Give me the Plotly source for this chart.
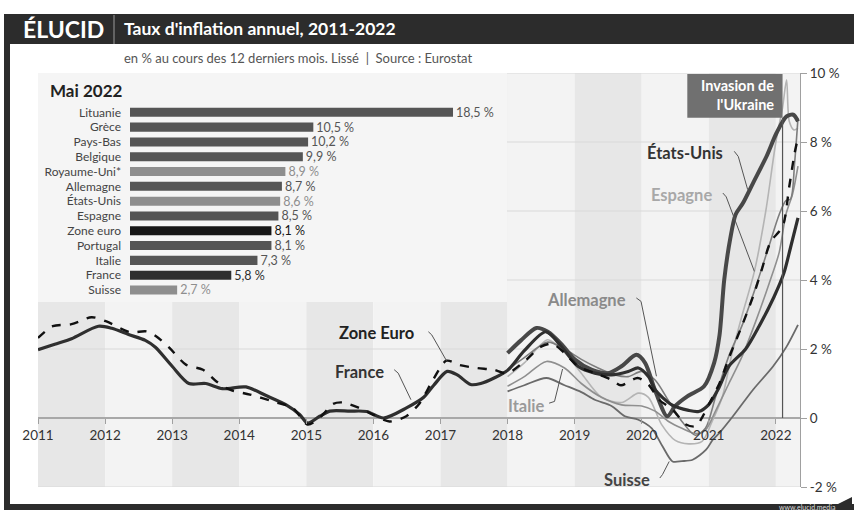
import plotly.graph_objects as go

# ---------------- DATA ----------------
bar_countries = ["Lituanie", "Grèce", "Pays-Bas", "Belgique", "Royaume-Uni*", "Allemagne",
                 "États-Unis", "Espagne", "Zone euro", "Portugal", "Italie", "France", "Suisse"]
bar_values = [18.5, 10.5, 10.2, 9.9, 8.9, 8.7, 8.6, 8.5, 8.1, 8.1, 7.3, 5.8, 2.7]
bar_colors = ["#555555", "#555555", "#555555", "#555555", "#8e8e8e", "#555555",
              "#8e8e8e", "#555555", "#161616", "#555555", "#555555", "#2e2e2e", "#8e8e8e"]

x_france = [2011.0, 2011.25, 2011.5, 2011.9, 2012.1, 2012.35, 2012.6, 2012.75, 2013.0, 2013.25,
            2013.5, 2013.75, 2014.1, 2014.4, 2014.7, 2014.9, 2015.02, 2015.2, 2015.35, 2015.65,
            2015.9, 2016.15, 2016.5, 2016.75, 2016.9, 2017.1, 2017.25, 2017.45, 2017.6, 2017.8,
            2018.0, 2018.25, 2018.57, 2018.8, 2019.05, 2019.3, 2019.55, 2019.8, 2019.95, 2020.1,
            2020.2, 2020.45, 2020.7, 2020.85, 2021.0, 2021.15, 2021.3, 2021.55, 2021.75, 2021.97,
            2022.12, 2022.22, 2022.33]
y_france = [1.98, 2.14, 2.3, 2.66, 2.6, 2.42, 2.25, 2.05, 1.5, 1.0,
            1.0, 0.85, 0.9, 0.65, 0.38, 0.1, -0.15, 0.05, 0.2, 0.2,
            0.19, 0.0, 0.3, 0.6, 0.95, 1.35, 1.25, 0.97, 1.0, 1.16,
            1.38, 1.95, 2.5, 2.08, 1.5, 1.3, 1.25, 1.35, 1.45, 1.2,
            0.82, 0.38, 0.22, 0.19, 0.39, 0.87, 1.5, 2.0, 2.66, 3.5,
            4.2, 4.95, 5.8]

x_zone = [2011.0, 2011.22, 2011.5, 2011.8, 2012.02, 2012.37, 2012.62, 2012.76, 2012.96, 2013.21,
          2013.46, 2013.66, 2013.86, 2014.16, 2014.5, 2014.8, 2015.02, 2015.22, 2015.4, 2015.55,
          2015.79, 2015.99, 2016.24, 2016.49, 2016.69, 2016.89, 2017.09, 2017.28, 2017.53, 2017.79,
          2018.0, 2018.25, 2018.5, 2018.67, 2018.85, 2019.05, 2019.3, 2019.55, 2019.69, 2019.94,
          2020.1, 2020.26, 2020.46, 2020.66, 2020.81, 2020.91, 2021.01, 2021.16, 2021.31, 2021.51,
          2021.66, 2021.79, 2021.92, 2022.1, 2022.2, 2022.28, 2022.33]
y_zone = [2.32, 2.66, 2.72, 2.92, 2.8, 2.49, 2.51, 2.37, 2.03, 1.54,
          1.40, 1.06, 0.82, 0.68, 0.48, 0.29, -0.19, 0.05, 0.41, 0.45,
          0.29, 0.10, -0.10, 0.05, 0.43, 1.11, 1.66, 1.54, 1.45, 1.40,
          1.30, 1.64, 2.07, 2.15, 1.88, 1.50, 1.30, 1.11, 0.95, 1.16,
          0.97, 0.53, 0.24, -0.19, -0.24, 0.05, 0.43, 1.01, 1.79, 2.75,
          3.52, 4.3, 5.1, 5.55, 6.71, 7.68, 8.12]

x_usa = [2018.0, 2018.2, 2018.43, 2018.6, 2018.8, 2019.0, 2019.25, 2019.5, 2019.7, 2019.92,
         2020.05, 2020.2, 2020.38, 2020.5, 2020.68, 2020.93, 2021.08, 2021.16, 2021.23, 2021.32,
         2021.4, 2021.51, 2021.66, 2021.86, 2022.01, 2022.16, 2022.26, 2022.33]
y_usa = [1.88, 2.25, 2.61, 2.5, 2.15, 1.7, 1.4, 1.3, 1.5, 1.83,
         1.6, 0.8, 0.05, 0.35, 0.63, 0.92, 1.6, 2.4, 4.0, 5.2,
         5.9, 6.23, 6.81, 7.58, 8.26, 8.74, 8.79, 8.6]

x_allemagne = [2018.0, 2018.25, 2018.6, 2018.85, 2019.1, 2019.35, 2019.6, 2019.8, 2020.0, 2020.2,
               2020.4, 2020.6, 2020.8, 2020.95, 2021.1, 2021.3, 2021.5, 2021.7, 2021.9, 2022.05,
               2022.15, 2022.22, 2022.28, 2022.33]
y_allemagne = [1.4, 1.75, 2.2, 2.0, 1.7, 1.45, 1.25, 1.2, 1.35, 1.1,
               0.5, -0.1, -0.5, -0.3, 0.6, 1.8, 2.7, 3.8, 5.0, 5.9,
               6.3, 6.35, 7.4, 8.7]

x_espagne = [2018.0, 2018.25, 2018.6, 2018.85, 2019.1, 2019.4, 2019.7, 2019.95, 2020.1, 2020.3,
             2020.5, 2020.7, 2020.9, 2021.05, 2021.2, 2021.35, 2021.5, 2021.68, 2021.85, 2022.0,
             2022.1, 2022.16, 2022.2, 2022.27, 2022.33]
y_espagne = [1.2, 1.6, 2.27, 1.9, 1.3, 0.6, 0.45, 0.72, 0.6, -0.2,
             -0.65, -0.75, -0.68, -0.1, 0.6, 1.9, 3.0, 4.25, 6.0, 8.0,
             9.0, 9.8, 8.6, 8.35, 8.4]

x_italie = [2018.0, 2018.25, 2018.58, 2018.85, 2019.1, 2019.4, 2019.7, 2020.0, 2020.2, 2020.4,
            2020.6, 2020.8, 2020.95, 2021.1, 2021.3, 2021.5, 2021.7, 2021.9, 2022.05, 2022.15,
            2022.25, 2022.33]
y_italie = [0.92, 1.2, 1.64, 1.45, 1.0, 0.6, 0.38, 0.35, 0.2, -0.1,
            -0.3, -0.45, -0.35, 0.2, 1.0, 1.8, 2.8, 3.9, 4.8, 5.9,
            6.5, 7.3]

x_suisse = [2018.0, 2018.25, 2018.58, 2018.85, 2019.1, 2019.3, 2019.55, 2019.75, 2019.95, 2020.15,
            2020.31, 2020.46, 2020.6, 2020.76, 2020.96, 2021.06, 2021.16, 2021.36, 2021.66, 2021.96,
            2022.16, 2022.33]
y_suisse = [0.77, 0.95, 1.16, 0.95, 0.75, 0.53, 0.35, 0.05, -0.05, -0.3,
            -0.82, -1.26, -1.25, -1.21, -0.92, -0.63, -0.43, 0.05, 0.82, 1.5,
            2.07, 2.7]

year_ticks = list(range(2011, 2023))
y_ticks = [-2, 0, 2, 4, 6, 8, 10]
y_ticktext = ["-2 %", "0", "2 %", "4 %", "6 %", "8 %", "10 %"]
invasion_date = 2022.1

# ---------------- LAYOUT HELPERS ----------------
W, H = 854, 510
L, R, T, B = 38, 54, 73, 23
PW, PH = W - L - R, H - T - B
FONT = "Lato"


def pxx(x):
    return (x - L) / PW


def pxy(y):
    return (H - B - y) / PH


fig = go.Figure()

series = [
    ("Espagne", x_espagne, y_espagne, dict(color="#b4b4b4", width=1.6)),
    ("Italie", x_italie, y_italie, dict(color="#8f8f8f", width=1.6)),
    ("Allemagne", x_allemagne, y_allemagne, dict(color="#7d7d7d", width=1.6)),
    ("Suisse", x_suisse, y_suisse, dict(color="#6a6a6a", width=1.8)),
    ("États-Unis", x_usa, y_usa, dict(color="#484848", width=4)),
    ("France", x_france, y_france, dict(color="#2f2f2f", width=3.2)),
    ("Zone euro", x_zone, y_zone, dict(color="#111111", width=2.4, dash="dash")),
]
for name, xs, ys, ln in series:
    fig.add_trace(go.Scatter(x=xs, y=ys, mode="lines", name=name,
                             line=dict(shape="spline", smoothing=0.8, **ln),
                             xaxis="x", yaxis="y", hoverinfo="skip"))

fig.add_trace(go.Bar(
    x=bar_values, y=bar_countries, orientation="h",
    marker=dict(color=bar_colors, line=dict(width=0)),
    text=[f"{v:.1f} %".replace(".", ",") for v in bar_values],
    textposition="outside", cliponaxis=False, constraintext="none",
    textfont=dict(color=bar_colors, size=12.5, family=FONT),
    xaxis="x2", yaxis="y2", hoverinfo="skip"))

shapes = []
# alternating year bands
for yr in year_ticks:
    shapes.append(dict(type="rect", xref="x", yref="paper", x0=yr, x1=min(yr + 1, 2022.36),
                       y0=0, y1=1, layer="below", line=dict(width=0),
                       fillcolor="#e7e7e7" if yr % 2 == 1 else "#f3f3f3"))
# horizontal gridlines (drawn as shapes so the inset can hide them)
for v in y_ticks:
    if v != 0:
        shapes.append(dict(type="line", xref="paper", yref="y", x0=0, x1=1, y0=v, y1=v,
                           layer="below", line=dict(width=1, color="#d9d9d9")))
# inset background for bar chart
shapes.append(dict(type="rect", xref="paper", yref="paper", x0=pxx(38), x1=pxx(507),
                   y0=pxy(302), y1=pxy(73), layer="below", line=dict(width=0),
                   fillcolor="#f5f5f5"))
# header bar, frame
shapes.append(dict(type="rect", xref="paper", yref="paper", x0=pxx(4), x1=pxx(854),
                   y0=pxy(44), y1=pxy(14), line=dict(width=0), fillcolor="#2c2c2c"))
shapes.append(dict(type="line", xref="paper", yref="paper", x0=pxx(114), x1=pxx(114),
                   y0=pxy(44), y1=pxy(15), line=dict(width=1, color="#9a9a9a")))
shapes.append(dict(type="rect", xref="paper", yref="paper", x0=pxx(4), x1=pxx(10),
                   y0=pxy(510), y1=pxy(14), line=dict(width=0), fillcolor="#2c2c2c"))
shapes.append(dict(type="rect", xref="paper", yref="paper", x0=pxx(4), x1=pxx(854),
                   y0=pxy(510), y1=pxy(504), line=dict(width=0), fillcolor="#2c2c2c"))
shapes.append(dict(type="path", xref="paper", yref="paper",
                   path=f"M {pxx(838)},{pxy(504)} L {pxx(852)},{pxy(497)} L {pxx(852)},{pxy(504)} Z",
                   line=dict(width=0), fillcolor="#2c2c2c"))
# invasion marker
shapes.append(dict(type="line", xref="x", yref="y", x0=invasion_date, x1=invasion_date,
                   y0=0, y1=8.7, line=dict(width=1.2, color="#555555")))
shapes.append(dict(type="rect", xref="x", yref="y", x0=2020.68, x1=invasion_date,
                   y0=8.7, y1=9.97, line=dict(width=0), fillcolor="#707070"))

# series labels with leader lines
labels = [
    ("Zone Euro", 2016.05, 2.47, "#222222", [(2016.82, 2.50), (2016.87, 2.41), (2017.09, 1.66)]),
    ("France", 2015.80, 1.32, "#333333", [(2016.31, 1.40), (2016.37, 1.30), (2016.56, 0.53)]),
    ("Allemagne", 2019.18, 3.43, "#8a8a8a", [(2019.92, 3.48), (2019.99, 3.38), (2020.22, 1.21)]),
    ("Italie", 2018.27, 0.36, "#9a9a9a", [(2018.62, 0.43), (2018.70, 0.48), (2018.82, 1.42)]),
    ("Suisse", 2019.78, -1.79, "#444444", [(2020.27, -1.74), (2020.31, -1.64), (2020.41, -1.26)]),
    ("Espagne", 2020.60, 6.47, "#a8a8a8", [(2021.21, 6.52), (2021.26, 6.41), (2021.68, 4.25)]),
    ("États-Unis", 2020.64, 7.68, "#333333", [(2021.38, 7.73), (2021.44, 7.58), (2021.58, 6.62)]),
]
annotations = []
for text, lx, ly, col, pts in labels:
    annotations.append(dict(x=lx, y=ly, xref="x", yref="y", text=f"<b>{text}</b>", showarrow=False,
                            xanchor="center", yanchor="middle",
                            font=dict(size=16.5, color=col, family=FONT)))
    path = "M " + " L ".join(f"{a},{b}" for a, b in pts)
    shapes.append(dict(type="path", xref="x", yref="y", path=path,
                       line=dict(width=1, color="#555555")))

annotations.append(dict(x=2022.0, y=9.35, xref="x", yref="y", xanchor="right", yanchor="middle",
                        text="<b>Invasion de<br>l'Ukraine</b>", showarrow=False, align="right",
                        font=dict(size=14.5, color="white", family=FONT)))


def paper_text(text, x, y, size, color, xanchor="left"):
    annotations.append(dict(x=pxx(x), y=pxy(y), xref="paper", yref="paper", xanchor=xanchor,
                            yanchor="middle", text=text, showarrow=False,
                            font=dict(size=size, color=color, family=FONT)))


paper_text("<b>ÉLUCID</b>", 21, 29, 23, "white")
paper_text("<b>Taux d'inflation annuel, 2011-2022</b>", 122, 29, 17.5, "white")
paper_text("en % au cours des 12 derniers mois. Lissé  |  Source : Eurostat", 122, 58, 13, "#555555")
paper_text("<b>Mai 2022</b>", 48, 91, 17, "#222222")
paper_text("www.elucid.media", 838, 507, 7, "#dddddd", xanchor="right")

fig.update_layout(
    width=W, height=H, margin=dict(l=L, r=R, t=T, b=B, autoexpand=False),
    paper_bgcolor="white", plot_bgcolor="rgba(0,0,0,0)", showlegend=False,
    font=dict(family=FONT, color="#333333"),
    xaxis=dict(range=[2011, 2022.36], tickvals=year_ticks, ticktext=[str(y) for y in year_ticks],
               anchor="free", position=1 / 6, showgrid=False, zeroline=False, showline=False,
               ticks="outside", ticklen=5, tickcolor="#a0a0a0",
               tickfont=dict(size=13.5, color="#333333", family=FONT)),
    yaxis=dict(range=[-2, 10], side="right", tickvals=y_ticks, ticktext=y_ticktext,
               showgrid=False,
               zeroline=True, zerolinecolor="#a8a8a8", zerolinewidth=1.5,
               showline=True, linecolor="#a0a0a0", linewidth=1,
               ticks="outside", ticklen=6, tickcolor="#a0a0a0",
               tickfont=dict(size=13.5, color="#333333", family=FONT)),
    xaxis2=dict(domain=[pxx(130), pxx(566.5)], range=[0, 25], anchor="y2", visible=False),
    yaxis2=dict(domain=[pxy(297.4), pxy(104.9)], anchor="x2", type="category",
                categoryorder="array", categoryarray=bar_countries, range=[12.5, -0.5],
                showgrid=False, zeroline=False, showline=False, ticks="",
                ticklabelstandoff=8, tickfont=dict(size=12, color="#444444", family=FONT)),
    bargap=0.39,
    shapes=shapes, annotations=annotations,
)

fig.write_html("out.html")
